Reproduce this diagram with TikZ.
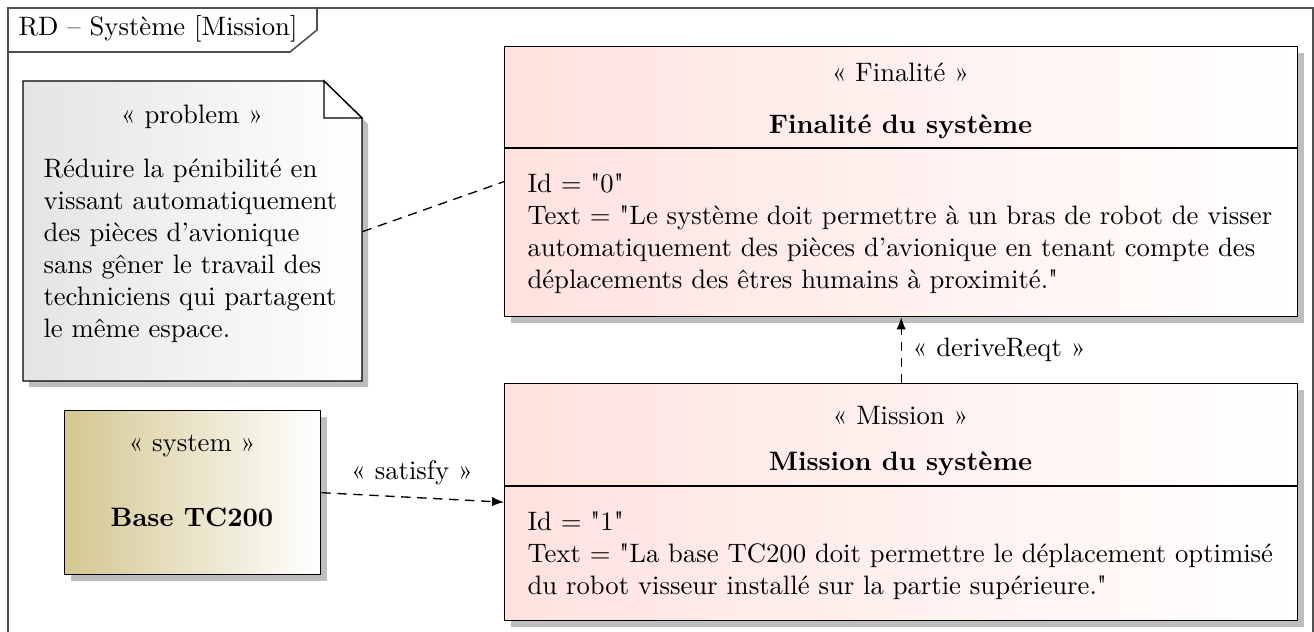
\documentclass[tikz,border=0pt]{standalone}
\usepackage{fontspec}
\newfontfamily\lmplain{Latin Modern Roman}
\newcommand{\dquo}{{\lmplain\char"22}}
\usetikzlibrary{arrows.meta,shadows,calc}
\definecolor{reqpink}{RGB}{255,226,222}
\definecolor{notegray}{RGB}{228,228,228}
\definecolor{systan}{RGB}{212,199,146}
\definecolor{shadowgray}{RGB}{190,190,190}
\definecolor{framegray}{RGB}{80,80,80}
\begin{document}
\begin{tikzpicture}[x=0.375pt,y=-0.375pt,
  every node/.style={font=\normalsize},
  box/.style={rectangle,draw=black,line width=0.5pt,inner sep=0pt,anchor=north west,
    drop shadow={shadow xshift=2.25pt,shadow yshift=-2.25pt,fill=shadowgray,opacity=1}},
  reqbox/.style={box,left color=reqpink,right color=white},
  sysbox/.style={box,left color=systan,right color=white},
  divider/.style={draw=black,line width=0.5pt},
  txt/.style={inner sep=0pt},
  bodytxt/.style={inner sep=0pt,anchor=north west,align=left},
  depline/.style={draw=black,line width=0.5pt,dash pattern=on 3.5pt off 2.5pt},
  deparrow/.style={depline,-{Latex[length=4.5pt,width=3.5pt]}}
]
\useasboundingbox (0,0) rectangle (1314,632);
% frame
\node[draw=framegray,line width=0.6pt,inner sep=0pt,anchor=north west,
  minimum width=489.4pt,minimum height=240pt] (frame) at (7,7) {};
\draw[draw=framegray,line width=0.6pt] (7,52) -- (290,52) -- (317,30) -- (317,7);
\node[txt,anchor=base west] (title) at (18,36) {RD – Système [Mission]};

% note (problem)
\coordinate (nA) at (23,81);
\coordinate (nB) at (324,81);
\coordinate (nC) at (362,118);
\coordinate (nD) at (362,381);
\coordinate (nE) at (23,381);
\fill[shadowgray] ($(nA)+(6,6)$) -- ($(nB)+(6,6)$) -- ($(nC)+(6,6)$) -- ($(nD)+(6,6)$) -- ($(nE)+(6,6)$) -- cycle;
\shade[left color=notegray,right color=white,draw=black,line width=0.5pt]
  (nA) -- (nB) -- (nC) -- (nD) -- (nE) -- cycle;
\draw[fill=white,line width=0.5pt] (nB) -- (324,118) -- (nC) -- cycle;
\node[inner sep=0pt,minimum width=127pt,minimum height=112.5pt,anchor=north west] (note) at (23,81) {};
\node[txt,anchor=base] (notest) at (192,124) {« problem »};
\node[bodytxt] (notetxt) at (43,158.5) {Réduire la pénibilité en\\vissant automatiquement\\des pièces d’avionique\\sans gêner le travail des\\techniciens qui partagent\\le même espace.};

% Finalité requirement
\node[reqbox,minimum width=297.4pt,minimum height=101.25pt] (fin) at (504,46) {};
\draw[divider] (504,148) -- (1297,148);
\node[txt,anchor=base] (finst) at (900.5,82) {« Finalité »};
\node[txt,anchor=base] (finname) at (900.5,134) {\bfseries Finalité du système};
\node[bodytxt] (fintxt) at (527,173.5) {Id = \dquo0\dquo\\Text = \dquo Le système doit permettre à un bras de robot de visser\\automatiquement des pièces d’avionique en tenant compte des\\déplacements des êtres humains à proximité.\dquo};

% Mission requirement
\node[reqbox,minimum width=297.4pt,minimum height=88.9pt] (mis) at (504,383) {};
\draw[divider] (504,486) -- (1297,486);
\node[txt,anchor=base] (misst) at (900.5,425) {« Mission »};
\node[txt,anchor=base] (misname) at (900.5,471) {\bfseries Mission du système};
\node[bodytxt] (mistxt) at (527,511.5) {Id = \dquo1\dquo\\Text = \dquo La base TC200 doit permettre le déplacement optimisé\\du robot visseur installé sur la partie supérieure.\dquo};

% System block
\node[sysbox,minimum width=96pt,minimum height=61.5pt] (sys) at (64,410) {};
\node[txt,anchor=base] (sysst) at (192,452) {« system »};
\node[txt,anchor=base] (sysname) at (192,527) {\bfseries Base TC200};

% connectors
\draw[depline] (note.east) -- (fin.west);
\draw[deparrow] (sys.east) -- (mis.west);
\node[txt,anchor=base] (satlbl) at (412,480) {« satisfy »};
\draw[deparrow] (mis.north) -- (fin.south);
\node[txt,anchor=base west] (derlbl) at (912,357) {« deriveReqt »};
\end{tikzpicture}
\end{document}
